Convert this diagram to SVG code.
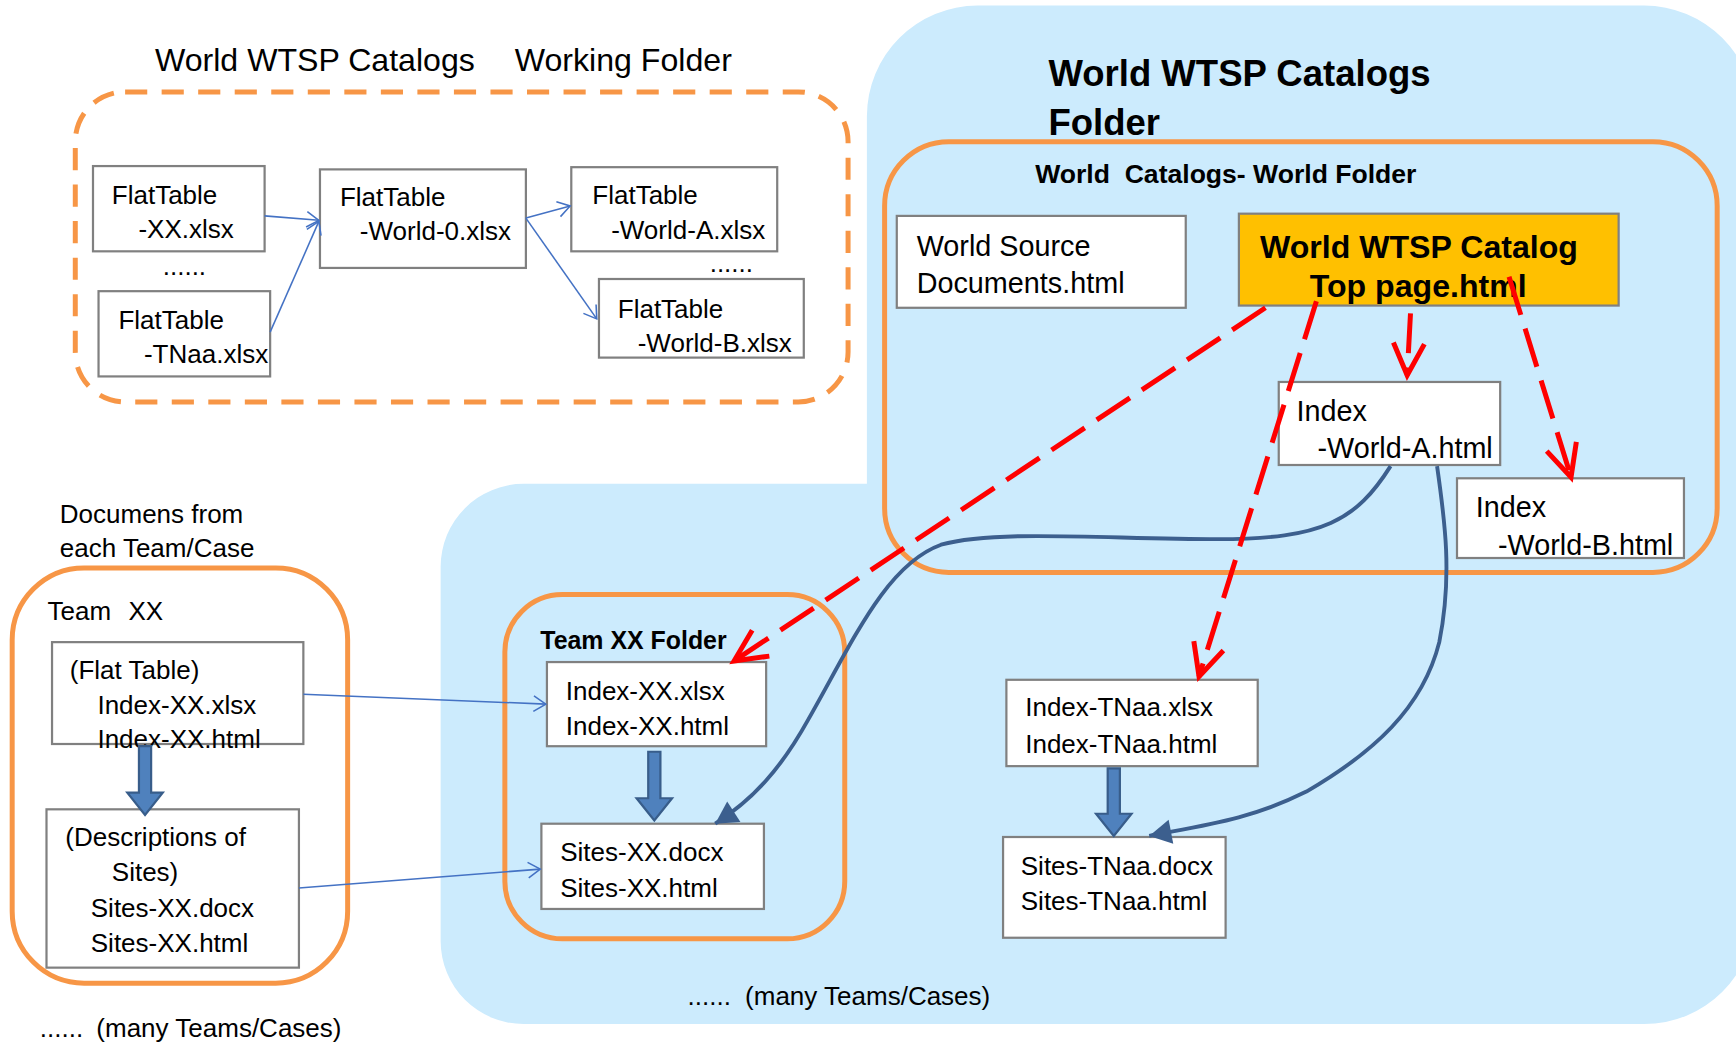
<svg xmlns="http://www.w3.org/2000/svg" width="1736" height="1043" viewBox="0 0 1736 1043">
<style>
text{font-family:"Liberation Sans",Arial,sans-serif;font-size:23.5px;fill:#000}
.b{font-weight:bold}
.box{fill:#fff;stroke:#808080;stroke-width:2}
.frame{fill:none;stroke:#F79646;stroke-width:4.5}
.thin{fill:none;stroke:#4472C4;stroke-width:1.4;marker-end:url(#mThin)}
.red{fill:none;stroke:#FF0000;stroke-width:4.5;stroke-dasharray:36 13;marker-end:url(#mRed)}
.curve{fill:none;stroke:#3C5F8E;stroke-width:3.5;marker-end:url(#mBlue)}
.blk{fill:#4F81BD;stroke:#385D8A;stroke-width:2}
</style>
<defs>
<marker id="mThin" markerUnits="userSpaceOnUse" orient="auto" refX="0" refY="0" markerWidth="30" markerHeight="30" viewBox="-15 -15 30 30" overflow="visible">
<path d="M-11,-7 L0,0 L-11,7" fill="none" stroke="#4472C4" stroke-width="1.4"/>
</marker>
<marker id="mRed" markerUnits="userSpaceOnUse" orient="auto" refX="0" refY="0" markerWidth="40" markerHeight="40" viewBox="-20 -20 40 40" overflow="visible">
<path d="M-29,-14 L0,0 L-29,14" fill="none" stroke="#FF0000" stroke-width="4.5"/>
</marker>
<marker id="mBlue" markerUnits="userSpaceOnUse" orient="auto" refX="0" refY="0" markerWidth="40" markerHeight="40" viewBox="-20 -20 40 40" overflow="visible">
<path d="M-20,-11 L0,0 L-20,11 Z" fill="#3C5F8E" stroke="none"/>
</marker>
</defs>
<rect x="0" y="0" width="1736" height="1043" fill="#fff"/>
<g transform="scale(1.10714)">
<path id="bg" d="M473,437 L783,437 L783,105 A100,100 0 0 1 883,5 L1485,5 A100,100 0 0 1 1585,105 L1585,825 A100,100 0 0 1 1485,925 L473,925 A75,75 0 0 1 398,850 L398,512 A75,75 0 0 1 473,437 Z" fill="#CCEBFD"/>

<g id="working-folder">
<text x="140" y="64" style="font-size:29px">World WTSP Catalogs</text>
<text x="465" y="64" style="font-size:29px">Working Folder</text>
<rect x="68" y="83" width="698" height="280" rx="45" class="frame" style="stroke-dasharray:20 13"/>
</g>
<g id="ft-xx"><rect class="box" x="84" y="150" width="155" height="77"/><text x="101" y="184">FlatTable</text><text x="125" y="215">-XX.xlsx</text></g>
<text x="147" y="248">......</text>
<g id="ft-tnaa"><rect class="box" x="89" y="263" width="155" height="77"/><text x="107" y="297">FlatTable</text><text x="130" y="328">-TNaa.xlsx</text></g>
<g id="ft-world0"><rect class="box" x="289" y="153" width="186" height="89"/><text x="307" y="186">FlatTable</text><text x="325" y="217">-World-0.xlsx</text></g>
<g id="ft-worlda"><rect class="box" x="516" y="151" width="186" height="76"/><text x="535" y="184">FlatTable</text><text x="552" y="216">-World-A.xlsx</text></g>
<text x="641" y="246">......</text>
<g id="ft-worldb"><rect class="box" x="541" y="252" width="185" height="71"/><text x="558" y="287">FlatTable</text><text x="576" y="318">-World-B.xlsx</text></g>

<g id="catalogs-folder">
<text class="b" x="947" y="78" style="font-size:33px">World WTSP Catalogs</text>
<text class="b" x="947" y="122" style="font-size:33px">Folder</text>
</g>
<g id="world-folder">
<rect x="799" y="128" width="752" height="389" rx="58" class="frame"/>
<text class="b" x="935" y="165" style="font-size:24px;white-space:pre">World  Catalogs- World Folder</text>
</g>
<g id="world-source"><rect class="box" x="810" y="195" width="261" height="83"/><text x="828" y="231" style="font-size:26px">World Source</text><text x="828" y="265" style="font-size:26px">Documents.html</text></g>
<g id="top-page"><rect x="1119" y="193" width="343" height="83" fill="#FFC000" stroke="#808080" stroke-width="2"/><text class="b" x="1138" y="233" style="font-size:29px">World WTSP Catalog</text><text class="b" x="1183" y="268" style="font-size:29px">Top page.html</text></g>
<g id="index-world-a"><rect class="box" x="1155" y="345" width="200" height="75"/><text x="1171" y="380" style="font-size:26px">Index</text><text x="1190" y="414" style="font-size:26px">-World-A.html</text></g>
<g id="index-world-b"><rect class="box" x="1316" y="432" width="205" height="72"/><text x="1333" y="467" style="font-size:26px">Index</text><text x="1353" y="501" style="font-size:26px">-World-B.html</text></g>

<g id="team-folder">
<rect x="456" y="537" width="307" height="311" rx="52" class="frame"/>
<text class="b" x="488" y="586" style="font-size:22.5px">Team XX Folder</text>
</g>
<g id="index-xx"><rect class="box" x="494" y="598" width="198" height="76"/><text x="511" y="632">Index-XX.xlsx</text><text x="511" y="664">Index-XX.html</text></g>
<g id="sites-xx"><rect class="box" x="489" y="744" width="201" height="77"/><text x="506" y="778">Sites-XX.docx</text><text x="506" y="810">Sites-XX.html</text></g>
<text x="621" y="908">......</text><text x="673" y="908">(many Teams/Cases)</text>

<g id="index-tnaa"><rect class="box" x="909" y="614" width="227" height="78"/><text x="926" y="647">Index-TNaa.xlsx</text><text x="926" y="680">Index-TNaa.html</text></g>
<g id="sites-tnaa"><rect class="box" x="906" y="756" width="201" height="91"/><text x="922" y="790">Sites-TNaa.docx</text><text x="922" y="822">Sites-TNaa.html</text></g>

<g id="team-docs">
<text x="54" y="472">Documens from</text>
<text x="54" y="503">each Team/Case</text>
<rect x="11" y="513" width="303" height="375" rx="65" class="frame"/>
<text x="43" y="560">Team</text><text x="116" y="560">XX</text>
</g>
<g id="flat-table"><rect class="box" x="47" y="580" width="227" height="92"/><text x="63" y="613">(Flat Table)</text><text x="88" y="645">Index-XX.xlsx</text><text x="88" y="676">Index-XX.html</text></g>
<g id="descriptions"><rect class="box" x="42" y="731" width="228" height="143"/><text x="59" y="764">(Descriptions of</text><text x="101" y="796">Sites)</text><text x="82" y="828">Sites-XX.docx</text><text x="82" y="860">Sites-XX.html</text></g>
<text x="36" y="937">......</text><text x="87" y="937">(many Teams/Cases)</text>

<g id="connectors">
<path class="thin" d="M239,195 L288,199"/>
<path class="thin" d="M244,300 L288,200"/>
<path class="thin" d="M475,197 L515,186"/>
<path class="thin" d="M475,197 L539,288"/>
<path class="thin" d="M274,627 L493,636"/>
<path class="thin" d="M270,802 L488,785"/>
<path class="blk" d="M125.5,674 L136.5,674 L136.5,716 L147,716 L131,736 L115,716 L125.5,716 Z"/>
<path class="blk" d="M585.5,679 L596.5,679 L596.5,721 L607,721 L591,741 L575,721 L585.5,721 Z"/>
<path class="blk" d="M1000.5,694 L1011.5,694 L1011.5,735 L1022,735 L1006,755 L990,735 L1000.5,735 Z"/>
<path class="curve" d="M1256,421 C1225,470 1195,487 1100,487 C1000,487 900,478 850,492 C800,510 770,580 730,650 C705,695 680,722 646,744"/>
<path class="curve" d="M1298,421 C1305,470 1312,520 1300,580 C1285,640 1240,680 1180,715 C1130,740 1090,745 1038,755"/>
<path class="red" d="M1143,278 L663,597"/>
<path class="red" d="M1189,272 L1083,611"/>
<path class="red" d="M1274,283 L1271,339"/>
<path class="red" d="M1363,250 L1419,431"/>
</g>
</g>
</svg>
